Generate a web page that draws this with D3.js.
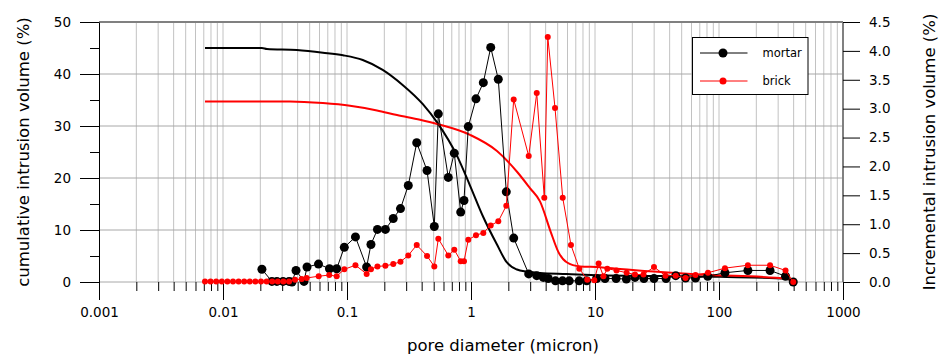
<!DOCTYPE html>
<html>
<head>
<meta charset="utf-8">
<script src="https://cdn.jsdelivr.net/npm/d3@7"></script>
<style>
  body { margin: 0; background: #fff; }
  text { font-family: "DejaVu Sans", sans-serif; }
</style>
</head>
<body>
<div id="chart"></div>
<script>
// incremental intrusion (%), right axis, against pore diameter (micron)
const mortarDiam = [0.0206, 0.0248, 0.0272, 0.0305, 0.0341, 0.036, 0.0388, 0.045, 0.0476, 0.0589,
  0.0722, 0.0826, 0.0951, 0.117, 0.144, 0.156, 0.176, 0.204, 0.236, 0.27,
  0.312, 0.365, 0.442, 0.506, 0.545, 0.656, 0.733, 0.826, 0.878, 0.951,
  1.097, 1.257, 1.442, 1.66, 1.926, 2.21, 2.92, 3.39, 3.83, 4.2,
  4.8, 5.47, 6.2, 7.46, 8.57, 10.3, 12.05, 14.8, 17.9, 21.0,
  24.8, 29.9, 37.4, 44.8, 53.7, 64.6, 81.1, 111.7, 171, 258, 344, 397];
const mortarIncr = [0.22, 0.01, 0.01, 0.01, 0.01, 0.00, 0.20, 0.01, 0.26, 0.31,
  0.23, 0.23, 0.60, 0.78, 0.26, 0.65, 0.91, 0.91, 1.10, 1.27,
  1.67, 2.41, 1.93, 0.96, 2.91, 1.81, 2.23, 1.21, 1.41, 2.69,
  3.17, 3.45, 4.06, 3.51, 1.56, 0.76, 0.14, 0.11, 0.08, 0.06,
  0.02, 0.02, 0.02, 0.02, 0.02, 0.06, 0.06, 0.06, 0.05, 0.08,
  0.06, 0.06, 0.06, 0.11, 0.07, 0.07, 0.10, 0.16, 0.20, 0.20, 0.10, 0.00];

const brickDiam = [0.00716, 0.00794, 0.00881, 0.00978, 0.01085, 0.01204, 0.01336, 0.01482, 0.01644, 0.01824,
  0.02025, 0.02247, 0.02493, 0.02766, 0.0307, 0.0341, 0.0381, 0.0431, 0.0473, 0.0591,
  0.0719, 0.0826, 0.0951, 0.117, 0.144, 0.156, 0.176, 0.204, 0.236, 0.27,
  0.312, 0.365, 0.442, 0.506, 0.545, 0.656, 0.733, 0.826, 0.878, 0.951,
  1.097, 1.257, 1.442, 1.66, 1.926, 2.21, 2.92, 3.39, 3.9, 4.16,
  4.76, 5.49, 6.4, 7.47, 8.66, 9.87, 10.7, 11.7, 12.57, 14.9,
  18.0, 21.0, 24.6, 29.9, 37.0, 44.8, 53.7, 64.6, 81.5, 111.7, 171, 258, 344, 397];
const brickIncr = [0.01, 0.01, 0.01, 0.01, 0.01, 0.01, 0.01, 0.01, 0.01, 0.01,
  0.01, 0.01, 0.01, 0.01, 0.01, 0.01, 0.04, 0.05, 0.07, 0.10,
  0.12, 0.10, 0.22, 0.29, 0.14, 0.22, 0.27, 0.28, 0.31, 0.35,
  0.46, 0.64, 0.45, 0.27, 0.75, 0.46, 0.56, 0.36, 0.36, 0.73,
  0.81, 0.85, 0.98, 1.05, 1.32, 3.16, 2.18, 3.27, 1.46, 4.24,
  3.01, 1.46, 0.64, 0.23, 0.04, 0.03, 0.32, 0.10, 0.23, 0.20,
  0.16, 0.13, 0.13, 0.26, 0.11, 0.11, 0.07, 0.12, 0.16, 0.24, 0.29, 0.29, 0.20, 0.00];

// cumulative intrusion (%), left axis
const mortarCumDiam = [0.00716, 0.0206, 0.0226, 0.0394, 0.064, 0.0929, 0.134, 0.194, 0.281, 0.409,
  0.54, 0.77, 0.98, 1.25, 1.62, 1.94, 2.35, 2.8, 3.6, 5.9, 11, 102, 353, 397];
const mortarCum = [45.0, 45.0, 44.8, 44.6, 44.1, 43.6, 42.7, 40.8, 37.9, 34.2,
  30.5, 24.3, 18.6, 12.6, 7.2, 3.8, 2.4, 2.0, 1.75, 1.55, 1.3, 1.0, 0.6, 0.0];
const brickCumDiam = [0.00716, 0.0347, 0.064, 0.1057, 0.1746, 0.253, 0.388, 0.532, 0.982, 1.62,
  2.35, 3.0, 3.6, 4.4, 5.06, 5.91, 7.57, 10.97, 15.9, 70.3, 353, 397];
const brickCum = [34.7, 34.7, 34.4, 33.9, 33.0, 32.1, 31.2, 30.4, 28.3, 25.2,
  21.2, 18.0, 15.5, 9.6, 5.8, 3.8, 3.0, 2.85, 2.5, 1.45, 0.65, 0.0];

const decadeTicks = [0.001, 0.01, 0.1, 1, 10, 100, 1000];
const decadeLabels = ["0.001", "0.01", "0.1", "1", "10", "100", "1000"];
const leftTicks = [0, 10, 20, 30, 40, 50];
const leftMinor = [5, 15, 25, 35, 45];
const rightTicks = [0, 0.5, 1.0, 1.5, 2.0, 2.5, 3.0, 3.5, 4.0, 4.5];
const seriesNames = ["mortar", "brick"];
const seriesColors = ["#000000", "#ff0000"];

const margin = { top: 22, right: 97, bottom: 72, left: 99 };
const W = 940, H = 354;
const width = W - margin.left - margin.right;
const height = H - margin.top - margin.bottom;

const svg = d3.select("#chart").append("svg")
  .attr("width", W)
  .attr("height", H);

const g = svg.append("g")
  .attr("transform", `translate(${margin.left}, ${margin.top})`);

// scales
const x = d3.scaleLog().domain([0.001, 1000]).range([0, width]);
const yL = d3.scaleLinear().domain([0, 50]).range([height, 0]);
const yR = d3.scaleLinear().domain([0, 4.5]).range([height, 0]);

// grid
const allX = x.ticks();
g.append("g").selectAll("line").data(allX.filter(d => d > 0.001 && d < 1000)).enter()
  .append("line")
  .attr("x1", d => x(d)).attr("x2", d => x(d))
  .attr("y1", 0).attr("y2", height)
  .attr("stroke", "#c2c2c2").attr("stroke-width", 1);
g.append("g").selectAll("line").data(leftTicks).enter()
  .append("line")
  .attr("x1", 0).attr("x2", width)
  .attr("y1", d => yL(d)).attr("y2", d => yL(d))
  .attr("stroke", "#a8a8a8").attr("stroke-width", 1);

// frame: grey top and right
g.append("line").attr("x1", 0).attr("x2", width).attr("y1", 0).attr("y2", 0)
  .attr("stroke", "#808080").attr("stroke-width", 2);
g.append("line").attr("x1", width).attr("x2", width).attr("y1", 0).attr("y2", height)
  .attr("stroke", "#808080").attr("stroke-width", 2);

// x axis
const minorX = allX.filter(d => decadeTicks.indexOf(d) < 0);
const xMinor = g.append("g")
  .attr("transform", `translate(0, ${height})`)
  .call(d3.axisBottom(x).tickValues(minorX).tickSize(9).tickFormat(""));
xMinor.select(".domain").remove();
const xMajor = g.append("g")
  .attr("transform", `translate(0, ${height})`)
  .call(d3.axisBottom(x).tickValues(decadeTicks).tickSize(18).tickPadding(7)
    .tickFormat((d, i) => decadeLabels[i]));
xMajor.select(".domain").remove();

// left axis
const yLeftMinor = g.append("g")
  .call(d3.axisLeft(yL).tickValues(leftMinor).tickSize(9).tickFormat(""));
yLeftMinor.select(".domain").remove();
g.append("g")
  .call(d3.axisLeft(yL).tickValues(leftTicks).tickSize(19).tickSizeOuter(0).tickPadding(9));

// right axis
const yRight = g.append("g")
  .attr("transform", `translate(${width}, 0)`)
  .call(d3.axisRight(yR).tickValues(rightTicks).tickSize(17).tickPadding(9)
    .tickFormat(d3.format(".1f")));
yRight.select(".domain").remove();

g.selectAll(".tick text")
  .attr("font-family", "'DejaVu Sans', sans-serif")
  .attr("font-size", 13.5)
  .attr("fill", "#000");

// cumulative curves
const cumLine = d3.line()
  .x(d => x(d[0]))
  .y(d => yL(d[1]))
  .curve(d3.curveMonotoneX);
g.append("path")
  .datum(d3.zip(mortarCumDiam, mortarCum))
  .attr("d", cumLine)
  .attr("fill", "none").attr("stroke", seriesColors[0]).attr("stroke-width", 2);
g.append("path")
  .datum(d3.zip(brickCumDiam, brickCum))
  .attr("d", cumLine)
  .attr("fill", "none").attr("stroke", seriesColors[1]).attr("stroke-width", 2);

// incremental series
const incLine = d3.line()
  .x(d => x(d[0]))
  .y(d => yR(d[1]));

function drawIncr(diam, vals, color, r) {
  const pts = d3.zip(diam, vals);
  g.append("path")
    .datum(pts)
    .attr("d", incLine)
    .attr("fill", "none").attr("stroke", color).attr("stroke-width", 1);
  g.append("g").selectAll("circle").data(pts).enter()
    .append("circle")
    .attr("cx", d => x(d[0]))
    .attr("cy", d => yR(d[1]))
    .attr("r", r)
    .attr("fill", color);
}
drawIncr(mortarDiam, mortarIncr, seriesColors[0], 4.5);
drawIncr(brickDiam, brickIncr, seriesColors[1], 3);

// legend
const legend = svg.append("g").attr("transform", "translate(692.5, 37.5)");
legend.append("rect")
  .attr("width", 115.5).attr("height", 57)
  .attr("fill", "#fff").attr("stroke", "#000").attr("stroke-width", 1);
seriesNames.forEach((name, i) => {
  const yy = 15.5 + i * 28;
  legend.append("line")
    .attr("x1", 7.5).attr("x2", 55).attr("y1", yy).attr("y2", yy)
    .attr("stroke", seriesColors[i]).attr("stroke-width", 1);
  legend.append("circle")
    .attr("cx", 30.5).attr("cy", yy).attr("r", i === 0 ? 4.5 : 3.5)
    .attr("fill", seriesColors[i]);
  legend.append("text")
    .attr("x", 70).attr("y", yy + 4)
    .attr("font-size", 11.5)
    .text(name);
});

// axis titles
svg.append("text")
  .attr("transform", "translate(23, 152) rotate(-90)")
  .attr("text-anchor", "middle")
  .attr("dominant-baseline", "central")
  .attr("font-size", 16.5)
  .text("cumulative intrusion volume (%)");
svg.append("text")
  .attr("transform", "translate(929, 152) rotate(-90)")
  .attr("text-anchor", "middle")
  .attr("dominant-baseline", "central")
  .attr("font-size", 16.5)
  .text("Incremental intrusion volume (%)");
svg.append("text")
  .attr("x", 503).attr("y", 351)
  .attr("text-anchor", "middle")
  .attr("font-size", 16.5)
  .text("pore diameter (micron)");
</script>
</body>
</html>
